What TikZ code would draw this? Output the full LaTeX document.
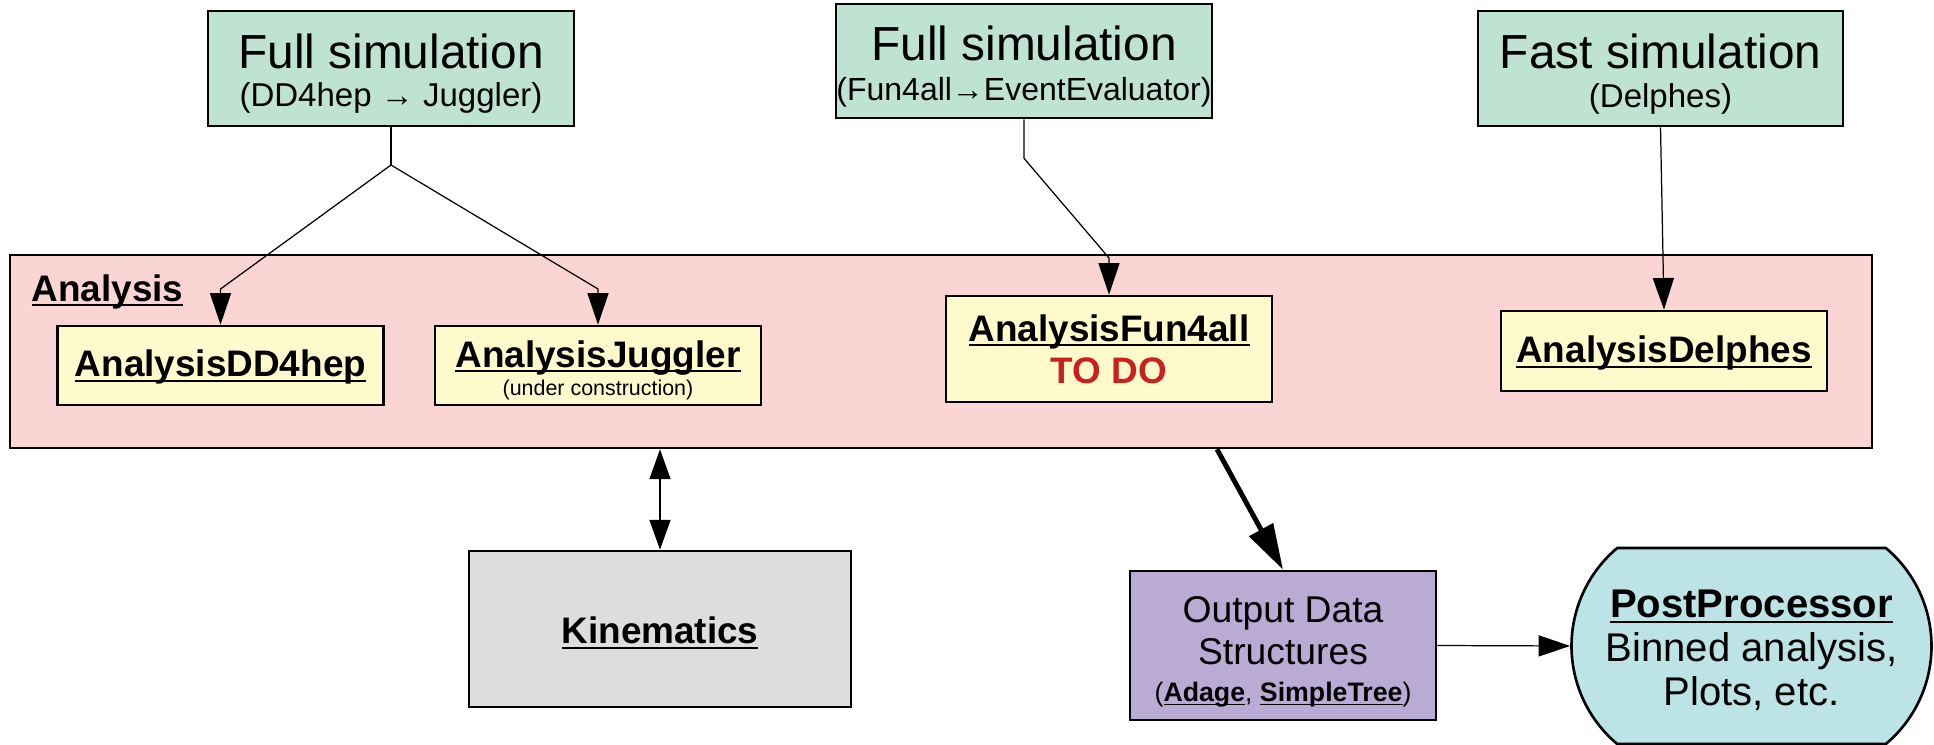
\documentclass[tikz,border=0pt]{standalone}
\usepackage{fontspec}
\setmainfont{Liberation Sans}
\usetikzlibrary{arrows.meta}
\usetikzlibrary{shapes.misc}
\definecolor{simgreen}{RGB}{190,227,211}
\definecolor{anapink}{RGB}{251,212,212}
\definecolor{anayellow}{RGB}{255,250,204}
\definecolor{kingray}{RGB}{221,221,221}
\definecolor{outpurple}{RGB}{186,171,213}
\definecolor{postcyan}{RGB}{188,227,229}
\definecolor{todored}{RGB}{201,33,30}
\newcommand{\fs}[2]{\fontsize{#1pt}{#2pt}\selectfont}
\newcommand{\ulbf}[1]{\textbf{\setbox0\hbox{#1}\rlap{\vrule width \wd0 height -0.08em depth 0.135em}\box0}}
\newcommand{\lift}[1]{\rule{0pt}{#1}}

\begin{document}
\begin{tikzpicture}[
      every node/.style={inner sep=0pt, align=center},
      box/.style={draw, line width=0.75pt},
      simbox/.style={box, fill=simgreen, font=\fs{9.4}{10.9}},
      anabox/.style={box, fill=anayellow, minimum width=3.26cm, font=\fs{10.5}{12}},
      thinline/.style={line width=0.35pt},
      thinarrow/.style={thinline, -{Triangle[length=9pt,width=6pt]}}]
        \useasboundingbox (0,0) rectangle (19.34,-7.45);

        % simulations
        \node[simbox, minimum width=3.66cm, minimum height=1.15cm] (FullDD4hep) at (3.91,-0.685)
          {{\fs{13.6}{10.9}\lift{12.7pt}Full simulation}\\(DD4hep → Juggler)};
        \node[simbox, minimum width=3.76cm, minimum height=1.14cm, font=\fs{9.1}{11.3}] (FullFun4all) at (10.24,-0.61)
          {{\fs{13.6}{11.3}\lift{12.9pt}Full simulation}\\(Fun4all→EventEvaluator)};
        \node[simbox, minimum width=3.65cm, minimum height=1.15cm] (FastDelphes) at (16.605,-0.685)
          {{\fs{13.6}{10.9}\lift{13pt}Fast simulation}\\(Delphes)};

        % analysis
        \node[box, fill=anapink, minimum width=18.62cm, minimum height=1.93cm] (Analysis) at (9.41,-3.515) {};
        \node[anchor=base west, font=\fs{10.5}{12}] (AnalysisLabel) at (0.31,-3.01) {\ulbf{Analysis}};

        \node[anabox, minimum height=0.79cm] (AnalysisDD4hep) at (2.205,-3.655) {\lift{8.6pt}\ulbf{AnalysisDD4hep}};
        \node[anabox, minimum height=0.79cm, font=\fs{10.5}{8}] (AnalysisJuggler) at (5.98,-3.655)
          {\lift{10.3pt}\ulbf{AnalysisJuggler}\\{\fs{6.1}{8}(under construction)}};
        \node[anabox, minimum height=1.06cm] (AnalysisFun4all) at (11.09,-3.49)
          {\ulbf{AnalysisFun4all}\\\textcolor{todored}{\textbf{TO DO}}};
        \node[anabox, minimum height=0.80cm] (AnalysisDelphes) at (16.64,-3.51) {\lift{9pt}\ulbf{AnalysisDelphes}};

        % below
        \node[box, fill=kingray, minimum width=3.82cm, minimum height=1.56cm, font=\fs{10.5}{12}] (Kinematics) at (6.60,-6.29)
          {\lift{9.7pt}\ulbf{Kinematics}};
        \node[box, fill=outpurple, minimum width=3.06cm, minimum height=1.49cm, font=\fs{10.6}{12}] (OutputData) at (12.83,-6.455)
          {\lift{11pt}Output Data\\Structures\\[-1.5pt]{\fs{7.6}{9}(\ulbf{Adage}, \ulbf{SimpleTree})}};
        \node[box, fill=postcyan, rounded rectangle, rounded rectangle arc length=100,
              minimum width=3.60cm, minimum height=1.96cm, font=\fs{11.4}{12.4}] (PostProcessor) at (17.515,-6.46)
          {\lift{10.3pt}\ulbf{PostProcessor}\\Binned analysis,\\Plots, etc.};

        % connectors
        \coordinate (split) at (3.91,-1.65);
        \draw[thinline] (FullDD4hep.south) -- (split);
        \foreach \p in {AnalysisDD4hep, AnalysisJuggler}
          \draw[thinarrow] (split) -- (\p.north |- 0,-2.89) -- (\p.north);

        \draw[thinarrow] (FullFun4all.south) -- ++(0,-0.39) -- (AnalysisFun4all.north |- 0,-2.58) -- (AnalysisFun4all.north);
        \draw[thinarrow] (FastDelphes.south) -- (AnalysisDelphes.north);

        \draw[thinline, {Triangle[length=8.5pt,width=6pt]}-{Triangle[length=8.5pt,width=6pt]}]
          (Kinematics.north |- Analysis.south) -- (Kinematics.north);
        \draw[line width=1.4pt, -{Triangle[length=13pt,width=7.5pt]}] (12.17,0 |- Analysis.south) -- (OutputData.north);
        \draw[thinarrow] (OutputData.east) -- (PostProcessor.west);

      \end{tikzpicture}
\end{document}
